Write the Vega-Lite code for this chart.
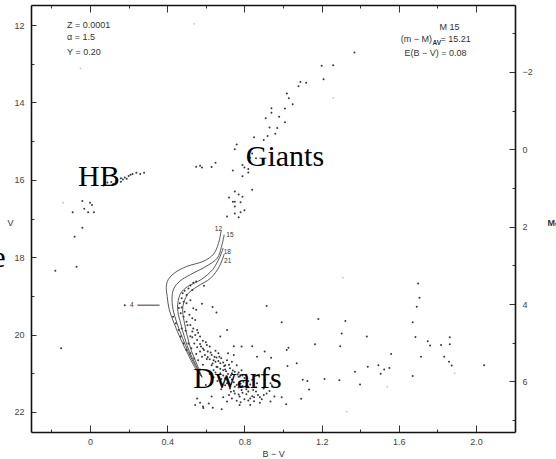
{
  "$schema": "https://vega.github.io/schema/vega-lite/v6.json",
  "width": 484,
  "height": 427,
  "autosize": {"type": "none"},
  "padding": {"left": 31, "top": 5, "right": 41, "bottom": 27},
  "background": "white",
  "config": {
    "view": {"stroke": null},
    "axis": {"domainColor": "#111", "domainWidth": 1.6, "tickColor": "#333", "tickWidth": 1, "labelFont": "Liberation Sans", "labelFontSize": 9, "labelColor": "#444", "grid": false, "titleFont": "Liberation Sans", "titleFontSize": 9, "titleFontWeight": "normal", "titleColor": "#333", "labelOverlap": false, "labelFlush": false}
  },
  "datasets": {
    "stars": [
      {"bv":1.37,"v":12.71},{"bv":1.20,"v":13.05},{"bv":1.26,"v":13.04},{"bv":1.21,"v":13.40},{"bv":1.09,"v":13.47},{"bv":1.08,"v":13.58},{"bv":1.12,"v":13.49},{"bv":1.02,"v":13.77},{"bv":1.03,"v":13.89},{"bv":1.05,"v":14.05},{"bv":1.01,"v":14.16},{"bv":0.94,"v":14.15},{"bv":0.94,"v":14.27},{"bv":0.91,"v":14.41},{"bv":0.98,"v":14.37},{"bv":1.01,"v":14.51},{"bv":0.93,"v":14.65},{"bv":0.97,"v":14.66},{"bv":0.96,"v":14.81},{"bv":0.92,"v":14.87},{"bv":0.90,"v":14.97},{"bv":0.85,"v":14.90},{"bv":0.76,"v":15.09},{"bv":0.75,"v":15.21},{"bv":0.84,"v":15.32},{"bv":0.83,"v":15.43},{"bv":0.86,"v":15.44},{"bv":0.79,"v":15.62},{"bv":0.80,"v":15.68},{"bv":0.82,"v":15.72},{"bv":0.74,"v":15.76},{"bv":0.82,"v":15.81},{"bv":0.79,"v":15.91},{"bv":0.55,"v":15.66},{"bv":0.57,"v":15.64},{"bv":0.58,"v":15.68},{"bv":0.63,"v":15.67},{"bv":0.65,"v":15.56},{"bv":0.84,"v":16.26},{"bv":0.75,"v":16.30},{"bv":0.77,"v":16.38},{"bv":0.79,"v":16.44},{"bv":0.72,"v":16.46},{"bv":0.74,"v":16.57},{"bv":0.75,"v":16.57},{"bv":0.78,"v":16.58},{"bv":0.75,"v":16.69},{"bv":0.80,"v":16.79},{"bv":0.78,"v":16.84},{"bv":0.75,"v":16.87},{"bv":0.77,"v":16.97},{"bv":0.71,"v":16.95},
      {"bv":0.07,"v":16.15},{"bv":0.09,"v":16.07},{"bv":0.11,"v":16.06},{"bv":0.12,"v":16.11},{"bv":0.14,"v":16.01},{"bv":0.16,"v":15.96},{"bv":0.17,"v":15.99},{"bv":0.18,"v":15.94},{"bv":0.20,"v":15.90},{"bv":0.21,"v":15.87},{"bv":0.22,"v":15.85},{"bv":0.24,"v":15.82},{"bv":0.26,"v":15.85},{"bv":0.28,"v":15.82},{"bv":0.19,"v":15.97},{"bv":0.16,"v":16.05},{"bv":0.12,"v":16.13},
      {"bv":-0.04,"v":16.55},{"bv":0.00,"v":16.59},{"bv":0.01,"v":16.65},{"bv":-0.03,"v":16.75},{"bv":-0.01,"v":16.84},{"bv":0.02,"v":16.84},{"bv":-0.09,"v":16.84},{"bv":-0.04,"v":17.24},{"bv":-0.08,"v":17.47},{"bv":-0.07,"v":18.25},{"bv":-0.18,"v":18.35},{"bv":-0.15,"v":20.35},{"bv":0.18,"v":19.24},
      {"bv":0.59,"v":18.74},{"bv":0.55,"v":18.63},{"bv":0.535,"v":18.66},{"bv":0.52,"v":18.73},{"bv":0.51,"v":18.81},{"bv":0.53,"v":18.85},{"bv":0.49,"v":18.87},{"bv":0.48,"v":18.93},{"bv":0.50,"v":18.98},{"bv":0.475,"v":19.06},{"bv":0.485,"v":19.15},{"bv":0.465,"v":19.19},{"bv":0.50,"v":19.19},{"bv":0.475,"v":19.30},{"bv":0.52,"v":19.11},{"bv":0.535,"v":19.32},{"bv":0.49,"v":19.41},{"bv":0.515,"v":19.49},{"bv":0.53,"v":19.58},{"bv":0.485,"v":19.54},{"bv":0.545,"v":19.62},{"bv":0.50,"v":19.67},{"bv":0.52,"v":19.75},{"bv":0.535,"v":19.84},{"bv":0.555,"v":19.88},{"bv":0.53,"v":19.92},{"bv":0.56,"v":19.95},{"bv":0.545,"v":20.01},{"bv":0.57,"v":20.05},{"bv":0.53,"v":20.07},{"bv":0.555,"v":20.14},{"bv":0.585,"v":20.16},{"bv":0.54,"v":20.23},{"bv":0.57,"v":20.24},{"bv":0.605,"v":20.27},{"bv":0.555,"v":20.33},{"bv":0.585,"v":20.36},{"bv":0.62,"v":20.31},{"bv":0.57,"v":20.44},{"bv":0.61,"v":20.44},{"bv":0.65,"v":20.42},{"bv":0.595,"v":20.53},{"bv":0.63,"v":20.53},{"bv":0.665,"v":20.48},{"bv":0.655,"v":20.59},{"bv":0.62,"v":20.64},{"bv":0.68,"v":20.61},{"bv":0.65,"v":20.70},{"bv":0.71,"v":20.66},{"bv":0.675,"v":20.74},{"bv":0.70,"v":20.79},{"bv":0.735,"v":20.70},{"bv":0.655,"v":20.83},{"bv":0.725,"v":20.87},{"bv":0.76,"v":20.79},{"bv":0.69,"v":20.92},{"bv":0.75,"v":20.96},{"bv":0.785,"v":20.92},{"bv":0.715,"v":21.02},{"bv":0.77,"v":21.09},{"bv":0.81,"v":21.04},{"bv":0.735,"v":21.16},{"bv":0.795,"v":21.22},{"bv":0.84,"v":21.17},{"bv":0.71,"v":21.26},{"bv":0.76,"v":21.30},{"bv":0.82,"v":21.35},{"bv":0.865,"v":21.26},{"bv":0.725,"v":21.39},{"bv":0.785,"v":21.43},{"bv":0.845,"v":21.43},{"bv":0.90,"v":21.39},{"bv":0.75,"v":21.52},{"bv":0.81,"v":21.54},{"bv":0.87,"v":21.56},{"bv":0.915,"v":21.52},{"bv":0.775,"v":21.60},{"bv":0.83,"v":21.65},{"bv":0.89,"v":21.67},{"bv":0.735,"v":21.65},{"bv":0.935,"v":21.73},{"bv":0.71,"v":21.73},{"bv":0.615,"v":21.78},{"bv":0.57,"v":21.76},{"bv":0.555,"v":21.65},{"bv":0.545,"v":21.82},{"bv":0.585,"v":21.86},{"bv":0.775,"v":21.82},{"bv":0.83,"v":21.82},{"bv":0.88,"v":21.76},{"bv":0.935,"v":21.26},{"bv":0.675,"v":21.00},{"bv":0.70,"v":21.13},{"bv":0.805,"v":21.35},{"bv":0.855,"v":21.04},{"bv":0.905,"v":21.17},{"bv":0.64,"v":20.92},{"bv":0.58,"v":20.57},{"bv":0.56,"v":20.66},{"bv":0.63,"v":20.79},{"bv":0.715,"v":20.48},{"bv":0.745,"v":20.53},{"bv":0.635,"v":19.29},{"bv":0.655,"v":19.43},{"bv":0.915,"v":19.26},{"bv":0.71,"v":19.88},{"bv":0.675,"v":20.05},{"bv":0.745,"v":20.30},{"bv":0.785,"v":20.31},{"bv":0.84,"v":20.30},{"bv":0.865,"v":20.57},{"bv":0.905,"v":20.44},{"bv":0.43,"v":19.54},{"bv":0.445,"v":19.71},{"bv":0.46,"v":19.88},{"bv":0.47,"v":20.05},{"bv":0.485,"v":20.23},{"bv":0.50,"v":20.40},{"bv":0.51,"v":20.23},{"bv":0.475,"v":19.84},
      {"bv":0.625,"v":20.46},{"bv":0.645,"v":20.57},{"bv":0.605,"v":20.63},{"bv":0.665,"v":20.68},{"bv":0.635,"v":20.75},{"bv":0.695,"v":20.81},{"bv":0.675,"v":20.88},{"bv":0.705,"v":20.95},{"bv":0.65,"v":20.98},{"bv":0.735,"v":21.00},{"bv":0.69,"v":21.06},{"bv":0.765,"v":21.03},{"bv":0.725,"v":21.10},{"bv":0.80,"v":21.12},{"bv":0.745,"v":21.23},{"bv":0.78,"v":21.27},{"bv":0.70,"v":21.31},{"bv":0.83,"v":21.29},{"bv":0.77,"v":21.37},{"bv":0.81,"v":21.41},{"bv":0.745,"v":21.46},{"bv":0.86,"v":21.47},{"bv":0.79,"v":21.50},{"bv":0.84,"v":21.59},{"bv":0.72,"v":21.56},{"bv":0.88,"v":21.62},{"bv":0.80,"v":21.67},{"bv":0.76,"v":21.71},{"bv":0.85,"v":21.72},{"bv":0.90,"v":21.56},{"bv":0.93,"v":21.46},{"bv":0.68,"v":21.41},{"bv":0.66,"v":21.20},{"bv":0.62,"v":21.02},{"bv":0.585,"v":20.78},{"bv":0.55,"v":20.50},{"bv":0.525,"v":20.35},{"bv":0.575,"v":20.31},{"bv":0.60,"v":20.20},{"bv":0.52,"v":20.04},{"bv":0.495,"v":19.90},{"bv":0.505,"v":19.76},{"bv":0.47,"v":19.45},{"bv":0.46,"v":19.31},{"bv":0.55,"v":19.36},{"bv":0.58,"v":19.20},
      {"bv":0.59,"v":20.40},{"bv":0.61,"v":20.58},{"bv":0.64,"v":20.66},{"bv":0.67,"v":20.57},{"bv":0.69,"v":20.72},{"bv":0.72,"v":20.78},{"bv":0.66,"v":20.84},{"bv":0.70,"v":20.90},{"bv":0.74,"v":20.93},{"bv":0.77,"v":20.98},{"bv":0.68,"v":21.15},{"bv":0.73,"v":21.05},{"bv":0.79,"v":21.06},{"bv":0.82,"v":21.20},{"bv":0.75,"v":21.35},{"bv":0.79,"v":21.33},{"bv":0.86,"v":21.36},{"bv":0.73,"v":21.48},{"bv":0.77,"v":21.55},{"bv":0.82,"v":21.47},{"bv":0.85,"v":21.62},{"bv":0.78,"v":21.75},{"bv":0.82,"v":21.70},{"bv":0.69,"v":21.62},{"bv":0.63,"v":21.60},{"bv":0.60,"v":21.30},{"bv":0.64,"v":21.10},{"bv":0.57,"v":20.90},{"bv":0.54,"v":20.62},{"bv":0.52,"v":20.48},
      {"bv":0.587,"v":21.90},{"bv":0.636,"v":21.89},{"bv":0.682,"v":21.93},
      {"bv":0.993,"v":19.68},{"bv":1.019,"v":20.40},{"bv":1.028,"v":20.34},{"bv":1.023,"v":20.81},{"bv":1.071,"v":20.74},{"bv":1.166,"v":20.25},{"bv":1.183,"v":19.60},{"bv":1.102,"v":21.17},{"bv":1.126,"v":21.20},{"bv":1.135,"v":21.42},{"bv":1.215,"v":21.15},{"bv":1.094,"v":21.66},{"bv":0.955,"v":21.60},{"bv":0.993,"v":21.62},{"bv":1.016,"v":21.80},{"bv":0.938,"v":20.60},
      {"bv":1.323,"v":19.65},{"bv":1.304,"v":19.97},{"bv":1.296,"v":20.30},{"bv":1.292,"v":21.18},{"bv":1.399,"v":21.29},{"bv":1.373,"v":20.96},{"bv":1.434,"v":20.05},{"bv":1.439,"v":20.83},{"bv":1.494,"v":20.79},{"bv":1.506,"v":21.01},{"bv":1.524,"v":20.90},{"bv":1.551,"v":20.86},{"bv":1.560,"v":20.50},{"bv":1.672,"v":19.68},{"bv":1.672,"v":21.07},{"bv":1.686,"v":20.06},{"bv":1.693,"v":19.28},{"bv":1.700,"v":18.68},{"bv":1.707,"v":19.05},{"bv":1.715,"v":20.57},{"bv":1.750,"v":20.17},{"bv":1.762,"v":20.28},{"bv":1.819,"v":20.27},{"bv":1.835,"v":20.57},{"bv":1.864,"v":20.07},{"bv":1.864,"v":20.25},{"bv":1.860,"v":20.70},{"bv":1.874,"v":20.80},{"bv":2.042,"v":20.79}
    ],
    "faint": [
      {"bv":-0.14,"v":16.59},{"bv":0.54,"v":11.97},{"bv":-0.05,"v":13.12},{"bv":1.26,"v":13.88},{"bv":1.31,"v":18.53},{"bv":1.54,"v":21.35},{"bv":1.89,"v":21.00},{"bv":1.33,"v":21.99}
    ],
    "iso": [
      {"age":"12","i":0,"bv":0.68,"v":17.30},{"age":"12","i":1,"bv":0.665,"v":17.65},{"age":"12","i":2,"bv":0.64,"v":17.92},{"age":"12","i":3,"bv":0.59,"v":18.10},{"age":"12","i":4,"bv":0.50,"v":18.24},{"age":"12","i":5,"bv":0.44,"v":18.40},{"age":"12","i":6,"bv":0.405,"v":18.58},{"age":"12","i":7,"bv":0.395,"v":18.78},{"age":"12","i":8,"bv":0.40,"v":19.02},{"age":"12","i":9,"bv":0.41,"v":19.35},{"age":"12","i":10,"bv":0.435,"v":19.70},{"age":"12","i":11,"bv":0.47,"v":20.12},{"age":"12","i":12,"bv":0.505,"v":20.48},{"age":"12","i":13,"bv":0.54,"v":20.82},{"age":"12","i":14,"bv":0.58,"v":21.10},
      {"age":"15","i":0,"bv":0.695,"v":17.42},{"age":"15","i":1,"bv":0.68,"v":17.75},{"age":"15","i":2,"bv":0.66,"v":18.02},{"age":"15","i":3,"bv":0.60,"v":18.24},{"age":"15","i":4,"bv":0.52,"v":18.45},{"age":"15","i":5,"bv":0.465,"v":18.62},{"age":"15","i":6,"bv":0.435,"v":18.80},{"age":"15","i":7,"bv":0.425,"v":19.02},{"age":"15","i":8,"bv":0.43,"v":19.35},{"age":"15","i":9,"bv":0.45,"v":19.70},{"age":"15","i":10,"bv":0.48,"v":20.10},{"age":"15","i":11,"bv":0.51,"v":20.46},{"age":"15","i":12,"bv":0.545,"v":20.80},{"age":"15","i":13,"bv":0.58,"v":21.10},
      {"age":"18","i":0,"bv":0.69,"v":17.76},{"age":"18","i":1,"bv":0.67,"v":18.02},{"age":"18","i":2,"bv":0.635,"v":18.32},{"age":"18","i":3,"bv":0.575,"v":18.58},{"age":"18","i":4,"bv":0.505,"v":18.76},{"age":"18","i":5,"bv":0.47,"v":18.93},{"age":"18","i":6,"bv":0.455,"v":19.18},{"age":"18","i":7,"bv":0.455,"v":19.40},{"age":"18","i":8,"bv":0.47,"v":19.72},{"age":"18","i":9,"bv":0.49,"v":20.08},{"age":"18","i":10,"bv":0.515,"v":20.44},{"age":"18","i":11,"bv":0.55,"v":20.80},{"age":"18","i":12,"bv":0.58,"v":21.10},
      {"age":"21","i":0,"bv":0.695,"v":17.92},{"age":"21","i":1,"bv":0.67,"v":18.24},{"age":"21","i":2,"bv":0.625,"v":18.54},{"age":"21","i":3,"bv":0.555,"v":18.76},{"age":"21","i":4,"bv":0.51,"v":18.93},{"age":"21","i":5,"bv":0.485,"v":19.18},{"age":"21","i":6,"bv":0.48,"v":19.40},{"age":"21","i":7,"bv":0.49,"v":19.72},{"age":"21","i":8,"bv":0.505,"v":20.06},{"age":"21","i":9,"bv":0.525,"v":20.42},{"age":"21","i":10,"bv":0.555,"v":20.78},{"age":"21","i":11,"bv":0.58,"v":21.10}
    ],
    "isolabels": [
      {"label":"12","bv":0.665,"v":17.26},{"label":"15","bv":0.725,"v":17.43},{"label":"18","bv":0.711,"v":17.86},{"label":"21","bv":0.713,"v":18.10},{"label":"4","bv":0.216,"v":19.24}
    ],
    "marker": [{"bv":0.245,"bv2":0.36,"v":19.24}],
    "notesLeft": [
      {"label":"Z = 0.0001","bv":-0.119,"v":12.0},{"label":"α = 1.5","bv":-0.119,"v":12.32},{"label":"Y = 0.20","bv":-0.119,"v":12.69}
    ],
    "notesCenter": [
      {"label":"M 15","bv":1.862,"v":12.04},{"label":"E(B − V) = 0.08","bv":1.790,"v":12.73}
    ],
    "notesRight": [{"label":"(m − M)","bv":1.772,"v":12.37}],
    "notesAfter": [{"label":"= 15.21","bv":1.816,"v":12.37}],
    "notesSub": [{"label":"AV","bv":1.775,"v":12.47}],
    "bigLabels": [
      {"label":"HB","bv":0.046,"v":16.16},{"label":"Giants","bv":1.010,"v":15.64},{"label":"Dwarfs","bv":0.764,"v":21.39},{"label":"e","bv":-0.472,"v":18.25}
    ]
  },
  "layer": [
    {
      "data": {"name": "stars"},
      "mark": {"type": "circle", "size": 4, "color": "#222", "opacity": 0.9},
      "encoding": {
        "x": {"field": "bv", "type": "quantitative", "scale": {"domain": [-0.306, 2.202], "nice": false, "zero": false},
          "axis": {"orient": "bottom", "values": [-0.2,0,0.2,0.4,0.6,0.8,1,1.2,1.4,1.6,1.8,2],
            "labelExpr": "abs(datum.value/0.4 - round(datum.value/0.4)) < 0.01 ? (datum.value == 0 ? '0' : format(datum.value, '.1f')) : ''",
            "tickSize": {"condition": {"test": "abs(datum.value/0.4 - round(datum.value/0.4)) < 0.01", "value": -7}, "value": -3},
            "labelPadding": 12, "title": "B − V", "titleY": 21, "titleBaseline": "middle"}},
        "y": {"field": "v", "type": "quantitative", "scale": {"domain": [11.483, 22.517], "reverse": true, "nice": false, "zero": false},
          "axis": {"orient": "left", "values": [12,13,14,15,16,17,18,19,20,21,22],
            "labelExpr": "datum.value % 2 == 0 ? datum.label : ''",
            "tickSize": {"condition": {"test": "datum.value % 2 == 0", "value": -5}, "value": -3},
            "labelPadding": 12, "title": "V", "titleAngle": 0, "titleX": -21, "titleY": 217, "titleAlign": "center", "titleBaseline": "middle"}}
      }
    },
    {
      "data": {"name": "faint"},
      "mark": {"type": "circle", "size": 3, "color": "#999", "opacity": 0.6},
      "encoding": {
        "x": {"field": "bv", "type": "quantitative", "scale": {"domain": [-0.306, 2.202], "nice": false, "zero": false},
          "axis": {"orient": "top", "values": [-0.2,0,0.2,0.4,0.6,0.8,1,1.2,1.4,1.6,1.8,2], "labels": false, "title": null,
            "tickSize": {"condition": {"test": "abs(datum.value/0.4 - round(datum.value/0.4)) < 0.01", "value": -7}, "value": -3}}},
        "y": {"field": "v", "type": "quantitative", "scale": {"domain": [11.483, 22.517], "reverse": true, "nice": false, "zero": false},
          "axis": {"orient": "right", "values": [12.21,13.21,14.21,15.21,16.21,17.21,18.21,19.21,20.21,21.21,22.21],
            "labelExpr": "round(datum.value - 15.21) % 2 == 0 ? format(round(datum.value - 15.21), 'd') : ''",
            "tickSize": {"condition": {"test": "round(datum.value - 15.21) % 2 == 0", "value": -6}, "value": -3},
            "labelPadding": 13, "labelAlign": "left",
            "title": "Mᵥ", "titleAngle": 0, "titleX": 32, "titleY": 217, "titleAlign": "left", "titleBaseline": "middle", "titleFontWeight": "bold"}}
      }
    },
    {
      "data": {"name": "iso"},
      "mark": {"type": "line", "interpolate": "catmull-rom", "color": "#444", "strokeWidth": 0.9},
      "encoding": {
        "x": {"field": "bv", "type": "quantitative", "scale": {"domain": [-0.306, 2.202], "nice": false, "zero": false}, "axis": null},
        "y": {"field": "v", "type": "quantitative", "scale": {"domain": [11.483, 22.517], "reverse": true, "nice": false, "zero": false}, "axis": null},
        "detail": {"field": "age"},
        "order": {"field": "i", "type": "quantitative"}
      }
    },
    {
      "data": {"name": "marker"},
      "mark": {"type": "rule", "color": "#555", "strokeWidth": 1.2},
      "encoding": {
        "x": {"field": "bv", "type": "quantitative", "scale": {"domain": [-0.306, 2.202], "nice": false, "zero": false}, "axis": null},
        "x2": {"field": "bv2"},
        "y": {"field": "v", "type": "quantitative", "scale": {"domain": [11.483, 22.517], "reverse": true, "nice": false, "zero": false}, "axis": null}
      }
    },
    {
      "data": {"name": "isolabels"},
      "mark": {"type": "text", "font": "Liberation Sans", "fontSize": 6.5, "color": "#333", "baseline": "middle", "align": "center"},
      "encoding": {
        "x": {"field": "bv", "type": "quantitative", "scale": {"domain": [-0.306, 2.202], "nice": false, "zero": false}, "axis": null},
        "y": {"field": "v", "type": "quantitative", "scale": {"domain": [11.483, 22.517], "reverse": true, "nice": false, "zero": false}, "axis": null},
        "text": {"field": "label"}
      }
    },
    {
      "data": {"name": "notesLeft"},
      "mark": {"type": "text", "font": "Liberation Sans", "fontSize": 9, "color": "#333", "baseline": "middle", "align": "left"},
      "encoding": {
        "x": {"field": "bv", "type": "quantitative", "scale": {"domain": [-0.306, 2.202], "nice": false, "zero": false}, "axis": null},
        "y": {"field": "v", "type": "quantitative", "scale": {"domain": [11.483, 22.517], "reverse": true, "nice": false, "zero": false}, "axis": null},
        "text": {"field": "label"}
      }
    },
    {
      "data": {"name": "notesCenter"},
      "mark": {"type": "text", "font": "Liberation Sans", "fontSize": 9, "color": "#333", "baseline": "middle", "align": "center"},
      "encoding": {
        "x": {"field": "bv", "type": "quantitative", "scale": {"domain": [-0.306, 2.202], "nice": false, "zero": false}, "axis": null},
        "y": {"field": "v", "type": "quantitative", "scale": {"domain": [11.483, 22.517], "reverse": true, "nice": false, "zero": false}, "axis": null},
        "text": {"field": "label"}
      }
    },
    {
      "data": {"name": "notesRight"},
      "mark": {"type": "text", "font": "Liberation Sans", "fontSize": 9, "color": "#333", "baseline": "middle", "align": "right"},
      "encoding": {
        "x": {"field": "bv", "type": "quantitative", "scale": {"domain": [-0.306, 2.202], "nice": false, "zero": false}, "axis": null},
        "y": {"field": "v", "type": "quantitative", "scale": {"domain": [11.483, 22.517], "reverse": true, "nice": false, "zero": false}, "axis": null},
        "text": {"field": "label"}
      }
    },
    {
      "data": {"name": "notesAfter"},
      "mark": {"type": "text", "font": "Liberation Sans", "fontSize": 9, "color": "#333", "baseline": "middle", "align": "left"},
      "encoding": {
        "x": {"field": "bv", "type": "quantitative", "scale": {"domain": [-0.306, 2.202], "nice": false, "zero": false}, "axis": null},
        "y": {"field": "v", "type": "quantitative", "scale": {"domain": [11.483, 22.517], "reverse": true, "nice": false, "zero": false}, "axis": null},
        "text": {"field": "label"}
      }
    },
    {
      "data": {"name": "notesSub"},
      "mark": {"type": "text", "font": "Liberation Sans", "fontSize": 6.5, "fontWeight": "bold", "color": "#333", "baseline": "middle", "align": "left"},
      "encoding": {
        "x": {"field": "bv", "type": "quantitative", "scale": {"domain": [-0.306, 2.202], "nice": false, "zero": false}, "axis": null},
        "y": {"field": "v", "type": "quantitative", "scale": {"domain": [11.483, 22.517], "reverse": true, "nice": false, "zero": false}, "axis": null},
        "text": {"field": "label"}
      }
    },
    {
      "data": {"name": "bigLabels"},
      "mark": {"type": "text", "font": "Liberation Serif", "fontSize": 30, "color": "#000", "baseline": "alphabetic", "align": "center"},
      "encoding": {
        "x": {"field": "bv", "type": "quantitative", "scale": {"domain": [-0.306, 2.202], "nice": false, "zero": false}, "axis": null},
        "y": {"field": "v", "type": "quantitative", "scale": {"domain": [11.483, 22.517], "reverse": true, "nice": false, "zero": false}, "axis": null},
        "text": {"field": "label"}
      }
    }
  ],
  "resolve": {"axis": {"x": "independent", "y": "independent"}}
}
